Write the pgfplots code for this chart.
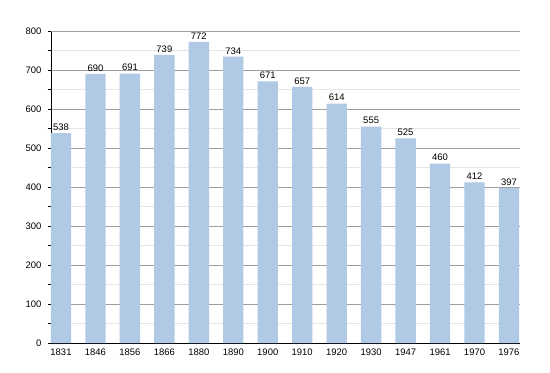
\documentclass[border=0pt]{standalone}
\usepackage{pgfplots}
\pgfplotsset{compat=1.18}
\usepackage{fontspec}
\setmainfont{Liberation Sans}
\definecolor{barblue}{HTML}{B0CAE6}
\begin{document}
\begin{tikzpicture}[x=1bp,y=1bp]
\path[use as bounding box] (-51bp,-30bp) rectangle (499bp,343bp);
\begin{axis}[
  at={(0,0)}, anchor=south west,
  scale only axis, width=469bp, height=312bp,
  xmin=-0.29, xmax=13.32, ymin=0, ymax=800,
  axis lines*=left,
  axis line style={black, line width=0.8pt},
  separate axis lines,
  x axis line style={-}, y axis line style={-},
  xtick={0,...,13},
  xticklabels={1831,1846,1856,1866,1880,1890,1900,1910,1920,1930,1947,1961,1970,1976},
  xtick style={draw=none},
  ytick={0,100,...,800},
  minor ytick={50,150,...,750},
  ymajorgrids, yminorgrids,
  major grid style={color=black!38, line width=0.6pt},
  minor grid style={color=black!10, line width=0.6pt},
  ytick style={black, line width=0.6pt},
  minor tick length=3bp, major tick length=3bp,
  tick align=outside,
  ticklabel style={font=\fontsize{9.5}{11}\selectfont},
  xticklabel style={yshift=1bp},
  yticklabel style={xshift=-3bp},
  /pgf/number format/assume math mode=true,
  /pgf/number format/1000 sep={},
  nodes near coords,
  nodes near coords style={font=\fontsize{9.5}{11}\selectfont, text=black, yshift=-1pt},
  axis on top=false,
  clip=false,
]
\addplot[ybar, bar width=0.59, fill=barblue, draw=none] coordinates {
(0,538) (1,690) (2,691) (3,739) (4,772) (5,734) (6,671) (7,657) (8,614) (9,555) (10,525) (11,460) (12,412) (13,397)
};
\draw[black!38, line width=0.6pt] (rel axis cs:0,1) -- (rel axis cs:1,1);
\end{axis}
\end{tikzpicture}
\end{document}
